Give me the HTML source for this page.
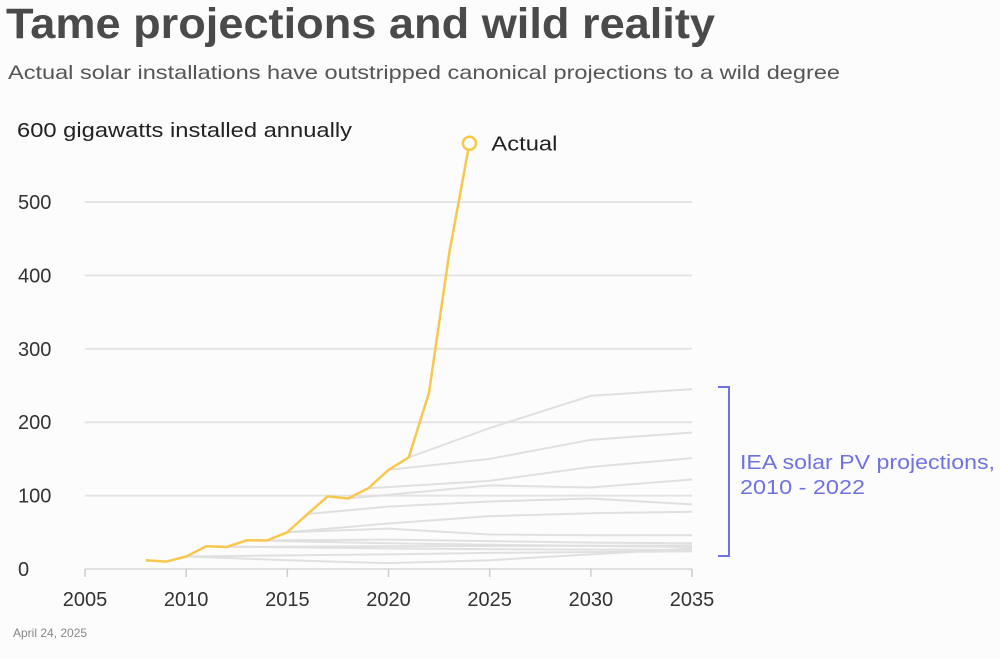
<!DOCTYPE html>
<html><head><meta charset="utf-8">
<style>
html,body{margin:0;padding:0;background:#fcfcfc;}
body{width:1000px;height:659px;overflow:hidden;position:relative;font-family:"Liberation Sans",sans-serif;}
svg{position:absolute;left:0;top:0;}
</style></head>
<body>
<svg width="1000" height="659" id="chart">
<text x="6" y="38" font-size="43" font-weight="bold" fill="#4a4a4a" textLength="709" lengthAdjust="spacingAndGlyphs">Tame projections and wild reality</text>
<text x="8" y="79" font-size="19.5" fill="#555" textLength="832" lengthAdjust="spacingAndGlyphs">Actual solar installations have outstripped canonical projections to a wild degree</text>
<g id="grid"></g>
<g id="proj"></g>
<g id="actual"></g>
<g id="axes"></g>
<rect x="8" y="112" width="360" height="30" fill="#fcfcfc"/>
<text x="17" y="137" font-size="20" fill="#222" textLength="335" lengthAdjust="spacingAndGlyphs">600 gigawatts installed annually</text>
<path d="M718,387 H729 V556 H718" fill="none" stroke="#6f72e0" stroke-width="2"/>
<text x="740" y="469" font-size="20" fill="#6f72e0" textLength="255" lengthAdjust="spacingAndGlyphs">IEA solar PV projections,</text>
<text x="740" y="494" font-size="20" fill="#6f72e0" textLength="125" lengthAdjust="spacingAndGlyphs">2010 - 2022</text>
<text x="13" y="637" font-size="12" fill="#888">April 24, 2025</text>
</svg>
<script>
const actualYears=[2008,2009,2010,2011,2012,2013,2014,2015,2016,2017,2018,2019,2020,2021,2022,2023,2024];
const actualValues=[12,10,17,31,30,39,39,50,75,99,96,110,135,152,240,430,580];
const projYears=[
[2021,2025,2030,2035],[2020,2025,2030,2035],[2019,2025,2030,2035],[2018,2025,2030,2035],
[2016,2020,2025,2030,2035],[2015,2020,2025,2030,2035],[2015,2020,2025,2030,2035],
[2014,2020,2025,2030,2035],[2013,2020,2025,2035],[2011,2020,2025,2035],[2010,2020,2025,2035],
[2010,2015,2020,2025,2035],[2012,2020,2035]];
const projValues=[
[152,192,236,245],[135,150,176,186],[110,120,139,151],[96,114,111,122],
[75,85,92,96,88],[50,62,72,76,78],[50,55,47,46,46],
[39,40,38,36,35],[39,35,33,30],[31,28,27,26],[17,20,22,24],
[17,12,8,12,28],[30,31,32]];
const yTicks=[0,100,200,300,400,500];
const xTicks=[2005,2010,2015,2020,2025,2030,2035];
const NS="http://www.w3.org/2000/svg";
function xs(y){return 85+(y-2005)*(607/30);}
function ys(v){return 569-v*0.734;}
function mk(tag,attrs,parent){const e=document.createElementNS(NS,tag);for(const k in attrs)e.setAttribute(k,attrs[k]);document.getElementById(parent).appendChild(e);return e;}
yTicks.forEach(t=>{
  if(t>0){const l=mk('line',{x1:85,x2:692,y1:ys(t),y2:ys(t),stroke:'#e4e4e4','stroke-width':2},'grid');
  
  }
  const tx=mk('text',{x:18,y:ys(t)+7,'font-size':20,fill:'#333'},'axes');
  
  
  tx.textContent=t;
});
const ax=mk('line',{x1:85,x2:692,y1:569,y2:569,stroke:'#e0e0e0','stroke-width':2},'axes');


xTicks.forEach(t=>{
  const tk=mk('line',{x1:xs(t),x2:xs(t),y1:569,y2:577,stroke:'#ccc','stroke-width':1.5},'axes');
  
  
  const tx=mk('text',{x:xs(t),y:606,'font-size':20,fill:'#333','text-anchor':'middle'},'axes');
  
  
  tx.textContent=t;
});
projYears.forEach((yrs,i)=>{
  const pts=yrs.map((y,j)=>xs(y)+','+ys(projValues[i][j])).join(' ');
  const p=mk('polyline',{points:pts,fill:'none',stroke:'#e0e0e0','stroke-width':2},'proj');
  
  
});
const apts=actualYears.map((y,j)=>xs(y)+','+ys(actualValues[j])).join(' ');
const al=mk('polyline',{points:apts,fill:'none',stroke:'#f8c84e','stroke-width':2.5,'stroke-linejoin':'round'},'actual');


const n=actualYears.length-1;
const c=mk('circle',{cx:xs(actualYears[n]),cy:ys(actualValues[n]),r:6.5,fill:'#fff',stroke:'#f8c84e','stroke-width':2.5},'actual');


const lab=mk('text',{x:xs(actualYears[n])+22,y:ys(actualValues[n])+7,'font-size':20,fill:'#222',textLength:66,lengthAdjust:'spacingAndGlyphs'},'actual');


lab.textContent='Actual';
</script>
</body></html>
